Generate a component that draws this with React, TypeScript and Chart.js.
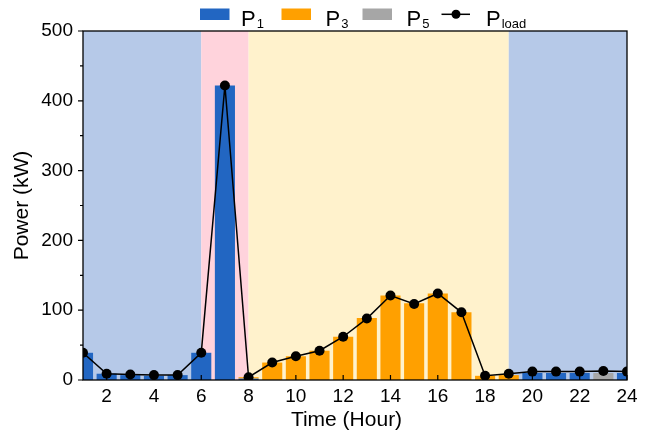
import React, { useEffect, useRef } from "react";
import { Chart, registerables } from "chart.js";

Chart.register(...registerables);

const hours = [1, 2, 3, 4, 5, 6, 7, 8, 9, 10, 11, 12, 13, 14, 15, 16, 17, 18, 19, 20, 21, 22, 23, 24];
const p1 = [39, 9, 7, 6, 7, 39, 422, 2, 0, 0, 0, 0, 0, 0, 0, 0, 0, 0, 0, 10, 10, 10, 0, 10];
const p3 = [0, 0, 0, 0, 0, 0, 0, 2, 25, 34, 42, 62, 89, 121, 110, 124, 97, 6, 7, 0, 0, 0, 0, 0];
const p5 = [0, 0, 0, 0, 0, 0, 0, 0, 0, 0, 0, 0, 0, 0, 0, 0, 0, 0, 0, 0, 0, 0, 10, 0];
const pLoad = [39, 9, 8, 7, 7, 39, 422, 4, 25, 34, 42, 62, 88, 121, 109, 124, 97, 6, 9, 12, 12, 12, 13, 12];

const xTicks = [2, 4, 6, 8, 10, 12, 14, 16, 18, 20, 22, 24];
const yTicks = [0, 100, 200, 300, 400, 500];
const yMinorTicks = [50, 150, 250, 350, 450];

const bandStarts = [1, 6, 8, 19];
const bandEnds = [6, 8, 19, 24];
const bandColors = ["#b6c9e8", "#ffd3dc", "#fff2cc", "#b6c9e8"];

const colP1 = "#2266c2";
const colP3 = "#ffa000";
const colP5 = "#a6a6a6";
const FONT = "'Liberation Sans', Arial, sans-serif";
const xTitle = "Time (Hour)";

const bandsPlugin = {
  id: "bands",
  beforeDatasetsDraw(chart: any) {
    const { ctx, chartArea } = chart;
    const xs = chart.scales.x;
    ctx.save();
    for (let i = 0; i < bandStarts.length; i++) {
      const a = xs.getPixelForValue(bandStarts[i]);
      const b = xs.getPixelForValue(bandEnds[i]);
      ctx.fillStyle = bandColors[i];
      ctx.fillRect(a, chartArea.top, b - a, chartArea.bottom - chartArea.top);
    }
    ctx.restore();
  },
};

const framePlugin = {
  id: "frame",
  afterDatasetsDraw(chart: any) {
    const { ctx, chartArea } = chart;
    const xs = chart.scales.x;
    const ys = chart.scales.y;
    ctx.save();
    ctx.strokeStyle = "#000";
    ctx.lineWidth = 1.3;
    ctx.strokeRect(chartArea.left, chartArea.top, chartArea.right - chartArea.left, chartArea.bottom - chartArea.top);
    ctx.lineWidth = 1.2;
    ctx.beginPath();
    for (const v of xTicks) {
      const px = xs.getPixelForValue(v);
      ctx.moveTo(px, chartArea.bottom);
      ctx.lineTo(px, chartArea.bottom - 5);
    }
    for (const v of yTicks) {
      const py = ys.getPixelForValue(v);
      ctx.moveTo(chartArea.left, py);
      ctx.lineTo(chartArea.left - 5, py);
    }
    for (const v of yMinorTicks) {
      const py = ys.getPixelForValue(v);
      ctx.moveTo(chartArea.left, py);
      ctx.lineTo(chartArea.left - 3, py);
    }
    ctx.stroke();
    // x-axis title
    ctx.fillStyle = "#000";
    ctx.font = `21px ${FONT}`;
    ctx.textAlign = "center";
    ctx.textBaseline = "middle";
    ctx.fillText(xTitle, 346.5, 420);
    ctx.restore();
  },
};

const legendItems = [
  { kind: "box", color: colP1, main: "P", sub: "1" },
  { kind: "box", color: colP3, main: "P", sub: "3" },
  { kind: "box", color: colP5, main: "P", sub: "5" },
  { kind: "line", color: "#000", main: "P", sub: "load" },
];

const legendPlugin = {
  id: "customLegend",
  afterDraw(chart: any) {
    const { ctx } = chart;
    const symX = [200, 281.5, 362.5, 441.5];
    const textX = [241, 325.5, 406.5, 486];
    ctx.save();
    legendItems.forEach((it, i) => {
      if (it.kind === "box") {
        ctx.fillStyle = it.color;
        ctx.fillRect(symX[i], 8.5, 29.5, 11.5);
      } else {
        ctx.strokeStyle = "#000";
        ctx.lineWidth = 1.5;
        ctx.beginPath();
        ctx.moveTo(symX[i], 14.3);
        ctx.lineTo(symX[i] + 28.5, 14.3);
        ctx.stroke();
        ctx.fillStyle = "#000";
        ctx.beginPath();
        ctx.arc(symX[i] + 14.5, 14.3, 4.5, 0, Math.PI * 2);
        ctx.fill();
      }
      ctx.fillStyle = "#000";
      ctx.textBaseline = "alphabetic";
      ctx.textAlign = "left";
      ctx.font = `22px ${FONT}`;
      ctx.fillText(it.main, textX[i], 26);
      const w = ctx.measureText(it.main).width;
      ctx.font = `13px ${FONT}`;
      ctx.fillText(it.sub, textX[i] + w + 1, 28);
    });
    ctx.restore();
  },
};

export default function App() {
  const ref = useRef<HTMLCanvasElement | null>(null);
  useEffect(() => {
    document.body.style.margin = "0";
    if (!ref.current) return;
    const mk = (arr: number[]) => hours.map((h, i) => ({ x: h, y: arr[i] }));
    const chart = new Chart(ref.current, {
      type: "bar",
      data: {
        datasets: [
          {
            type: "line",
            label: "Pload",
            data: mk(pLoad),
            borderColor: "#000",
            backgroundColor: "#000",
            borderWidth: 1.5,
            pointRadius: 5,
            pointBackgroundColor: "#000",
            pointBorderWidth: 0,
            stack: "load",
            order: 0,
            clip: 0,
          } as any,
          { label: "P1", data: mk(p1), backgroundColor: colP1, stack: "bars", order: 1 },
          { label: "P3", data: mk(p3), backgroundColor: colP3, stack: "bars", order: 1 },
          { label: "P5", data: mk(p5), backgroundColor: colP5, stack: "bars", order: 1 },
        ],
      },
      options: {
        animation: false,
        responsive: true,
        maintainAspectRatio: false,
        layout: { padding: { left: 0, top: 31, right: 24, bottom: 0 } },
        datasets: { bar: { categoryPercentage: 1, barPercentage: 0.85 } } as any,
        plugins: { legend: { display: false }, tooltip: { enabled: false } },
        scales: {
          x: {
            type: "linear",
            min: 1,
            max: 24,
            stacked: true,
            offset: false,
            grid: { display: false, drawTicks: false },
            border: { display: false },
            afterBuildTicks: (s: any) => {
              s.ticks = xTicks.map((v) => ({ value: v }));
            },
            afterFit: (s: any) => {
              s.height = 56;
            },
            ticks: { color: "#000", font: { size: 19, family: FONT }, padding: 5, maxRotation: 0, autoSkip: false },
            title: { display: false, text: xTitle },
          },
          y: {
            min: 0,
            max: 500,
            stacked: true,
            grid: { display: false, drawTicks: false },
            border: { display: false },
            afterBuildTicks: (s: any) => {
              s.ticks = yTicks.map((v) => ({ value: v }));
            },
            afterFit: (s: any) => {
              s.width = 83;
            },
            ticks: { color: "#000", font: { size: 19, family: FONT }, padding: 10 },
            title: {
              display: true,
              text: "Power (kW)",
              color: "#000",
              font: { size: 21, family: FONT, lineHeight: 1.2 },
              padding: { top: 10, bottom: 0 },
            },
          },
        },
      },
      plugins: [bandsPlugin, framePlugin, legendPlugin],
    });
    return () => chart.destroy();
  }, []);
  return (
    <div style={{ position: "fixed", left: 0, top: 0, width: 651, height: 436 }}>
      <canvas ref={ref} />
    </div>
  );
}
